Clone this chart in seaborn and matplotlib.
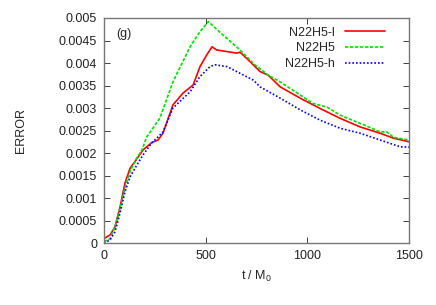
import numpy as np
import pandas as pd
import matplotlib
matplotlib.use("Agg")
import matplotlib.pyplot as plt
import seaborn as sns

# values
t_low = [0, 30, 54, 79, 103, 128, 152, 192, 234, 266, 290, 339, 388, 438, 472,
         505, 531, 554, 652, 669, 718, 767, 807, 866, 964, 1062, 1161, 1259,
         1357, 1423, 1500]
err_low = [0.0001, 0.00018, 0.00036, 0.0008, 0.00133, 0.00166, 0.00181, 0.00207,
           0.00223, 0.00229, 0.00244, 0.00307, 0.00333, 0.00351, 0.00392, 0.00418,
           0.00436, 0.00429, 0.00422, 0.00424, 0.00403, 0.00381, 0.00373, 0.00347,
           0.00322, 0.00299, 0.00277, 0.00258, 0.00244, 0.00233, 0.00225]

t_mid = [0, 30, 54, 79, 103, 128, 161, 187, 210, 234, 275, 339, 423, 472, 513,
         585, 669, 734, 807, 866, 964, 1028, 1097, 1161, 1259, 1357, 1390, 1423,
         1500]
err_mid = [0.00003, 0.0001, 0.00036, 0.00078, 0.00122, 0.00159, 0.00189, 0.00207,
           0.00236, 0.00251, 0.00278, 0.00358, 0.00436, 0.0047, 0.00492, 0.00462,
           0.00429, 0.00399, 0.00373, 0.00358, 0.00329, 0.0031, 0.00302, 0.00284,
           0.00266, 0.00247, 0.00247, 0.00235, 0.00229]

t_high = [0, 30, 54, 79, 103, 128, 161, 192, 234, 266, 290, 339, 423, 472, 521,
          546, 605, 669, 734, 767, 866, 964, 1062, 1161, 1259, 1357, 1455, 1500]
err_high = [0.0, 0.00007, 0.00025, 0.00067, 0.00114, 0.00147, 0.00173, 0.00196,
            0.00222, 0.00236, 0.00247, 0.003, 0.00336, 0.0037, 0.00392, 0.00396,
            0.00392, 0.00377, 0.00362, 0.00347, 0.00322, 0.00296, 0.00273, 0.00255,
            0.00244, 0.00229, 0.00214, 0.00213]

labels = ["N22H5-l", "N22H5", "N22H5-h"]
colors = ["#ff0000", "#00e000", "#0000ff"]
dashes = ["-", (0, (2, 1)), (0, (1, 1.2))]

#%%
sns.set_style("ticks")
plt.rcParams["font.family"] = ["Liberation Sans", "DejaVu Sans"]
plt.rcParams["mathtext.default"] = "regular"

fig = plt.figure(figsize=(4.36, 3.05), dpi=100)
ax = fig.add_axes([0.2385, 0.203, 0.7, 0.738])

series = [(t_low, err_low), (t_mid, err_mid), (t_high, err_high)]
for (t, e), lab, c, ls in zip(series, labels, colors, dashes):
    df = pd.DataFrame({"t": t, "err": e})
    sns.lineplot(data=df, x="t", y="err", ax=ax, color=c, label=lab, lw=1.2)
    ax.lines[-1].set_linestyle(ls)

ax.set_xlim(0, 1500)
ax.set_ylim(0, 0.005)
ax.set_xticks([0, 500, 1000, 1500])
ax.set_yticks(np.arange(0, 0.00501, 0.0005))
ax.set_yticklabels(["0", "0.0005", "0.001", "0.0015", "0.002", "0.0025",
                    "0.003", "0.0035", "0.004", "0.0045", "0.005"])
ax.tick_params(direction="in", top=True, right=True, length=4, width=0.6,
               labelsize=9, colors="#222222", pad=5)
for sp in ax.spines.values():
    sp.set_color("#777777")
    sp.set_linewidth(1.0)

ax.set_xlabel("t / M$_0$", fontsize=9, labelpad=5)
ax.set_ylabel("ERROR", fontsize=9, labelpad=23)
ax.text(0.04, 0.93, "(g)", transform=ax.transAxes, fontsize=9, va="center")

ax.legend(loc="upper right", frameon=False, markerfirst=False, fontsize=9,
          handlelength=3.2, labelspacing=0.3, borderaxespad=0.3,
          bbox_to_anchor=(0.95, 1.0))

fig.savefig("out.png", dpi=100)
